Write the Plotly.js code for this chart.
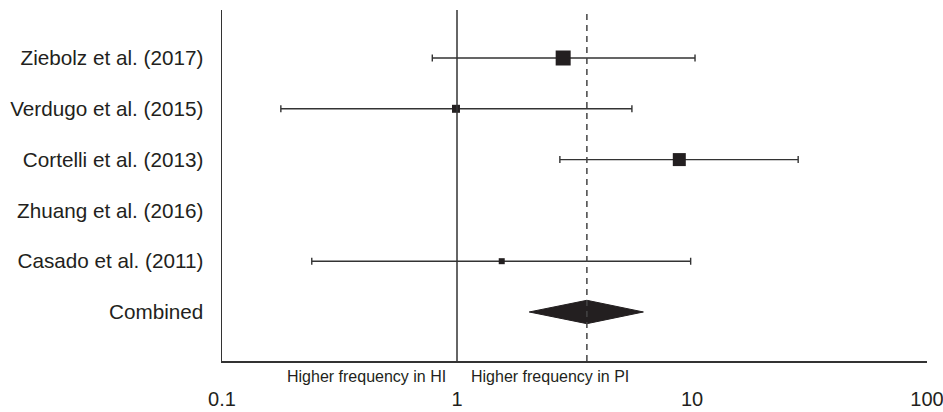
<!DOCTYPE html>
<html>
<head>
<meta charset="utf-8">
<script src="https://cdn.plot.ly/plotly-3.0.1.min.js"></script>
<style>html,body{margin:0;padding:0;background:#fff}#chart{width:943px;height:412px}</style>
</head>
<body>
<div id="chart"></div>
<script>
// Forest plot data (odds ratio, 95% CI)
const studies = ["Ziebolz et al. (2017)", "Verdugo et al. (2015)", "Cortelli et al. (2013)", "Zhuang et al. (2016)", "Casado et al. (2011)", "Combined"];
const estimate = [2.83, 0.99, 8.83, null, 1.55];
const ciLow    = [0.785, 0.178, 2.74, null, 0.241];
const ciHigh   = [10.3, 5.55, 28.3, null, 9.87];
const weightMarker = [15, 8, 13, 0, 6];
const combinedEst = 3.57;
const combinedLow = 2.03;
const combinedHigh = 6.21;
const xTickVals = [0.1, 1, 10, 100];
const xTickText = ["0.1", "1", "10", "100"];
const sideLabels = ["Higher frequency in HI", "Higher frequency in PI"];

const n = studies.length;
const rowY = studies.map((s, i) => n - i); // top row highest
const studyY = rowY.slice(0, estimate.length);

const dark = "#231f20";

const studyTrace = {
  type: "scatter",
  mode: "markers",
  x: estimate,
  y: studyY,
  marker: {symbol: "square", size: weightMarker, color: dark, opacity: 1, line: {width: 0}},
  error_x: {
    type: "data",
    symmetric: false,
    array: estimate.map((e, i) => e == null ? null : ciHigh[i] - e),
    arrayminus: estimate.map((e, i) => e == null ? null : e - ciLow[i]),
    color: "#333",
    thickness: 1.4,
    width: 3.5
  },
  hoverinfo: "skip",
  showlegend: false
};

const cy = rowY[n - 1];
const dh = 0.23;
const diamond = {
  type: "scatter",
  mode: "lines",
  x: [combinedLow, combinedEst, combinedHigh, combinedEst, combinedLow],
  y: [cy, cy + dh, cy, cy - dh, cy],
  fill: "toself",
  fillcolor: dark,
  line: {color: dark, width: 1},
  hoverinfo: "skip",
  showlegend: false
};

const layout = {
  width: 943,
  height: 412,
  margin: {l: 222, r: 16, t: 10, b: 51},
  paper_bgcolor: "#fff",
  plot_bgcolor: "#fff",
  font: {family: "Liberation Sans, Arial, sans-serif", color: dark},
  xaxis: {
    type: "log",
    range: [-1, 2],
    tickvals: xTickVals,
    ticktext: xTickText,
    ticks: "",
    showgrid: false,
    zeroline: false,
    showline: true,
    linecolor: "#333",
    linewidth: 1.5,
    tickfont: {size: 20, color: dark},
    ticklabelstandoff: 19,
    ticklabeloverflow: "allow",
    fixedrange: true
  },
  yaxis: {
    range: [0.035, 6.945],
    tickvals: rowY,
    ticktext: studies,
    ticks: "",
    showgrid: false,
    zeroline: false,
    showline: true,
    linecolor: "#333",
    linewidth: 1.5,
    tickfont: {size: 20.7, color: dark},
    ticklabelstandoff: 13,
    fixedrange: true
  },
  shapes: [
    {type: "line", xref: "x", yref: "paper", x0: 1, x1: 1, y0: 0, y1: 1,
     line: {color: "#333", width: 1.5}},
    {type: "line", xref: "x", yref: "paper", x0: combinedEst, x1: combinedEst, y0: 0, y1: 1,
     line: {color: "#444", width: 1.5, dash: "6px,5px"}}
  ],
  annotations: [
    {xref: "x", yref: "paper", x: Math.log10(1), y: 0, xanchor: "right", yanchor: "top",
     xshift: -9, yshift: -5, showarrow: false, text: sideLabels[0],
     font: {size: 16, color: dark}},
    {xref: "x", yref: "paper", x: Math.log10(1), y: 0, xanchor: "left", yanchor: "top",
     xshift: 12, yshift: -5, showarrow: false, text: sideLabels[1],
     font: {size: 16, color: dark}}
  ]
};

Plotly.newPlot("chart", [studyTrace, diamond], layout, {staticPlot: true, displayModeBar: false});
</script>
</body>
</html>
